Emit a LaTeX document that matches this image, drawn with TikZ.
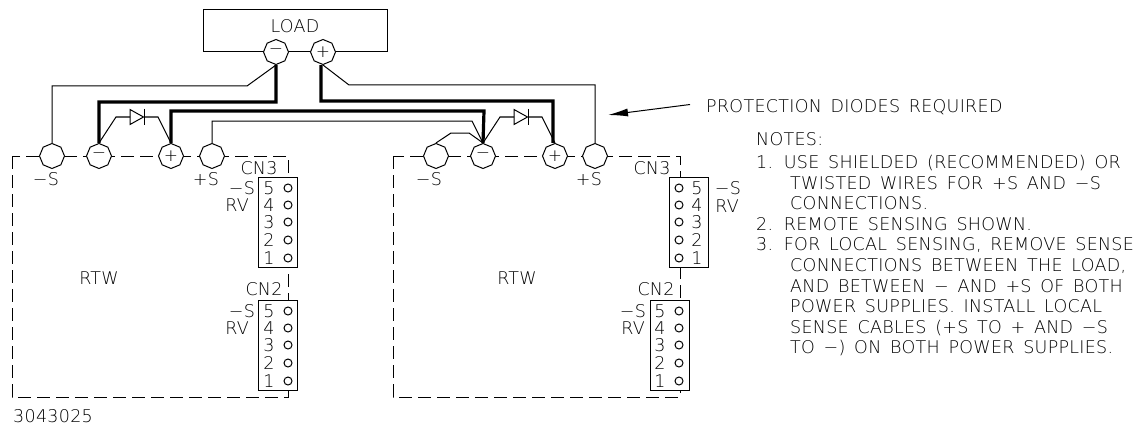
\documentclass[tikz,border=0pt]{standalone}
\usepackage{fontspec}
\newfontfamily\cadfont{DejaVu Sans}[UprightFont=* ExtraLight,LetterSpace=1.6,WordSpace=1.5]
\usepackage{tikz}
\usetikzlibrary{shapes.geometric,arrows.meta,calc}

\tikzset{
	wire/.style={line width=1pt},
	heavy/.style={line width=3.2pt},
	frame/.style={line width=1pt,dash pattern=on 13pt off 6pt},
	terminal/.style={draw,fill=white,line width=1pt,regular polygon,regular polygon sides=8,shape border rotate=22.5,minimum size=25pt,inner sep=0pt,font=\cadfont\fontsize{17}{17}\selectfont},
	cadtext/.style={inner sep=0pt,font=\cadfont\fontsize{17.5}{17.5}\selectfont},
	note/.style={cadtext,anchor=base west,yshift=-6.4pt},
	socket/.style={draw,circle,fill=white,line width=1pt,minimum size=8pt,inner sep=0pt},
	header/.style={draw,fill=white,line width=1pt,rectangle,inner sep=0pt,minimum width=39pt,minimum height=90pt}
}

\begin{document}
\begin{tikzpicture}[x=1pt,y=-1pt]
	
	\useasboundingbox (0,0) rectangle (1147,425);
	
	\draw[frame] (12,156) rectangle (288,397);
	\draw[frame] (393,156) rectangle (680,397);
	
	\node[draw,wire,minimum width=184pt,minimum height=42pt,inner sep=0pt] (load) at (295,31) {};
	\node[cadtext] at (295,26) {LOAD};
	
	\node[terminal] (loadneg) at (276,52) {−};
	\node[terminal] (loadpos) at (323,52) {+};
	\node[terminal] (asenseneg) at (52,156) {};
	\node[terminal] (aneg) at (99,156) {−};
	\node[terminal] (apos) at (171,156) {+};
	\node[terminal] (asensepos) at (212,156) {};
	\node[terminal] (bsenseneg) at (436,156) {};
	\node[terminal] (bneg) at (483,156) {−};
	\node[terminal] (bpos) at (555,156) {+};
	\node[terminal] (bsensepos) at (595,156) {};
	
	% thin sense wires
	\draw[wire] (loadneg.south) -- (247,86) -| (asenseneg.north);
	\draw[wire] (loadpos.south) -- (349,85) -| (bsensepos.north);
	\draw[wire] (asensepos.north) |- (472,121) -- (bneg.north);
	\draw[wire] (bsenseneg.north) -- (451,133) -- (469,133) -- (bneg.north);
	
	% heavy load wires
	\draw[heavy] (loadneg.south) -- (276,102) -| (aneg.north);
	\draw[heavy] ([xshift=-2pt]loadpos.south) -- (321,101) -| ([xshift=-2pt]bpos.north);
	\draw[heavy] (apos.north) |- (484,111) -- (bneg.north);
	
	% diodes
	\coordinate (adiode) at (130,117);
	\coordinate (bdiode) at (514,117);
	\foreach \d/\from/\to in {adiode/aneg/apos,bdiode/bneg/bpos}{
		\draw[wire] (\from.north) -- ($(\d)+(-14,0)$) -- (\d);
		\draw[wire] (\d) -- ++(0,-7.5) -- ++(13.5,7.5) -- ++(-13.5,7.5) -- cycle;
		\draw[wire] ($(\d)+(14,-8)$) -- ++(0,16);
		\draw[wire] ($(\d)+(14,0)$) -- ++(14,0) -- (\to.north);
	}
	
	% connectors
	\foreach \name/\bx/\by/\nx/\sx in {acnthree/277.5/222/269/288,acntwo/277.5/345/269/288,bcnthree/689/222/697/679,bcntwo/669.5/345/660/679}{
		\node[header] (\name) at (\bx,\by) {};
		\foreach \n/\ry in {5/-34,4/-17,3/0,2/18,1/36}{
			\node[socket] (\name s\n) at (\sx,\by+\ry) {};
			\node[cadtext] at (\nx,\by+\ry) {\n};
		}
	}
	
	\node[cadtext] at (259,168) {CN3};
	\node[cadtext] at (264,289) {CN2};
	\node[cadtext] at (652,168) {CN3};
	\node[cadtext] at (656,289) {CN2};
	
	\node[cadtext] at (242,188) {−S};
	\node[cadtext] at (237,205) {RV};
	\node[cadtext] at (242,311) {−S};
	\node[cadtext] at (237,328) {RV};
	\node[cadtext] at (728,188) {−S};
	\node[cadtext] at (727,206) {RV};
	\node[cadtext] at (633,311) {−S};
	\node[cadtext] at (633,328) {RV};
	
	\node[cadtext] at (46,179) {−S};
	\node[cadtext] at (206,179) {+S};
	\node[cadtext] at (429,179) {−S};
	\node[cadtext] at (589,179) {+S};
	
	\node[cadtext] at (99,278) {RTW};
	\node[cadtext] at (517,278) {RTW};
	
	% arrow to the diodes
	\coordinate (arrowstart) at (690,104.5);
	\coordinate (arrowtip) at (608,115);
	\draw[wire,-{Latex[length=20pt,width=8pt]}] (arrowstart) -- (arrowtip);
	
	\node[note] at (706,106) {PROTECTION DIODES REQUIRED};
	\node[note] at (756,139) {NOTES:};
	\node[note] at (756,162) {1. USE SHIELDED (RECOMMENDED) OR};
	\node[note] at (790,183) {TWISTED WIRES FOR +S AND −S};
	\node[note] at (790,203) {CONNECTIONS.};
	\node[note] at (756,224) {2. REMOTE SENSING SHOWN.};
	\node[note] at (756,244) {3. FOR LOCAL SENSING, REMOVE SENSE};
	\node[note] at (790,265) {CONNECTIONS BETWEEN THE LOAD,};
	\node[note] at (790,286) {AND BETWEEN − AND +S OF BOTH};
	\node[note] at (790,306) {POWER SUPPLIES. INSTALL LOCAL};
	\node[note] at (790,327) {SENSE CABLES (+S TO + AND −S};
	\node[note] at (790,347) {TO −) ON BOTH POWER SUPPLIES.};
	\node[note] at (13,416.5) {3043025};
	
\end{tikzpicture}
\end{document}
